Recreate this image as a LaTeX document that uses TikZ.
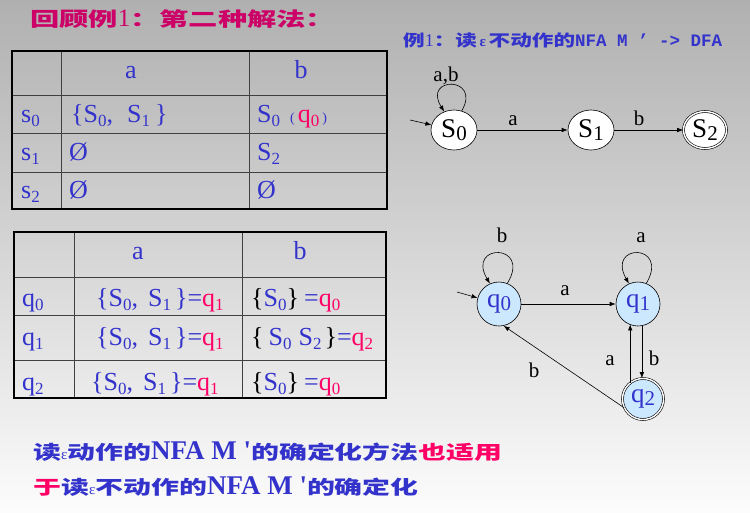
\documentclass[tikz,border=0pt]{standalone}
\usepackage{fontspec}
\setmainfont{Liberation Serif}
\newfontfamily\cjkT[FakeStretch=1.47]{Noto Sans CJK SC}
\newfontfamily\cjkTT[FakeStretch=1.5]{Noto Sans CJK SC}
\newfontfamily\cjkS[FakeStretch=1.35]{Noto Sans CJK SC}
\newfontfamily\monoB{Liberation Mono}
\usetikzlibrary{arrows.meta,shapes.geometric}
\definecolor{tblue}{RGB}{51,51,204}
\definecolor{tred}{RGB}{255,0,102}
\definecolor{tmag}{RGB}{204,0,102}
\definecolor{qfill}{RGB}{204,232,255}
\definecolor{bgtop}{RGB}{176,176,176}
\definecolor{bgmid}{RGB}{228,228,228}
\definecolor{bgbot}{RGB}{252,252,252}
\newcommand\sbs[2][17]{\raisebox{-4pt}{\fontsize{#1}{#1}\selectfont #2}}
\newcommand\sbq[1]{\raisebox{-3pt}{\fontsize{21}{21}\selectfont #1}}
\begin{document}
\begin{tikzpicture}[x=1pt,y=-1pt,
  tline/.style={draw=black!75, line width=0.8pt},
  tborder/.style={draw=black, line width=1.8pt},
  cell/.style={anchor=base west, inner sep=0pt, text=tblue, font=\fontsize{26}{26}\selectfont},
  hdr/.style={anchor=base, inner sep=0pt, text=tblue, font=\fontsize{26}{26}\selectfont},
  st/.style={ellipse, draw, fill=white, line width=0.6pt, minimum width=46pt, minimum height=40pt, inner sep=0pt, font=\fontsize{27}{27}\selectfont},
  qs/.style={circle, draw, fill=qfill, line width=0.6pt, minimum size=44pt, inner sep=0pt, text=tblue, font=\fontsize{27}{27}\selectfont},
  acc/.style={double, double distance=1.4pt},
  edge/.style={-{Latex[length=6pt,width=4.5pt]}, line width=0.6pt},
  lbl/.style={anchor=base, inner sep=0pt, font=\fontsize{21}{21}\selectfont},
  cjkline/.style={anchor=base west, inner sep=0pt, text=tblue, font=\cjkT\bfseries\fontsize{19}{19}\selectfont},
]
\useasboundingbox (0,0) rectangle (750,512);
\shade[top color=bgtop, middle color=bgmid, bottom color=bgbot] (0,0) rectangle (750,512);

% Title
\node[anchor=base west, inner sep=0pt, text=tmag, font=\cjkTT\bfseries\fontsize{19.5}{19.5}\selectfont] (title) at (30,26)
  {回顾例{\rmfamily\mdseries\fontsize{25}{25}\selectfont 1}：第二种解法：};

% Subtitle
\node[anchor=base west, inner sep=0pt, text=tblue, font=\cjkS\bfseries\fontsize{16}{16}\selectfont] (sub) at (403,46)
  {例{\rmfamily\mdseries\fontsize{18}{18}\selectfont 1}：读\,{\rmfamily\fontsize{15}{15}\selectfont ε}\,不动作的{\monoB\bfseries\fontsize{17.5}{17.5}\selectfont NFA M ’ -> DFA}};

% Table 1
\draw[tline] (61,51) -- (61,209) (249,51) -- (249,209)
  (12,95) -- (387,95) (12,133) -- (387,133) (12,172) -- (387,172);
\draw[tborder] (12,51) rectangle (387,209);
\node[hdr] (t1a) at (131,78) {a};
\node[hdr] (t1b) at (301,78) {b};
\node[cell] (t1r1) at (21,122) {s\sbs{0}};
\node[cell] (t1r2) at (21,160) {s\sbs{1}};
\node[cell] (t1r3) at (21,198) {s\sbs{2}};
\node[cell] (t1c11) at (71,122) {\{S\sbs{0},\hspace{14pt}S\sbs{1}\hspace{5pt}\}};
\node[cell] (t1c12) at (257,122) {S\sbs{0}\hspace{10pt}{\fontsize{14}{14}\selectfont (}\hspace{3pt}\textcolor{tred}{q\sbs{0}}\hspace{3pt}{\fontsize{14}{14}\selectfont )}};
\node[cell] (t1c21) at (69,160) {Ø};
\node[cell] (t1c22) at (257,160) {S\sbs{2}};
\node[cell] (t1c31) at (69,198) {Ø};
\node[cell] (t1c32) at (257,198) {Ø};

% Table 2
\draw[tline] (74,232) -- (74,398) (242,232) -- (242,398)
  (14,277) -- (386,277) (14,315) -- (386,315) (14,360) -- (386,360);
\draw[tborder] (14,232) rectangle (386,398);
\node[hdr] (t2a) at (138,259) {a};
\node[hdr] (t2b) at (300,259) {b};
\node[cell] (t2r1) at (22,306) {q\sbs{0}};
\node[cell] (t2r2) at (22,345) {q\sbs{1}};
\node[cell] (t2r3) at (22,390) {q\sbs{2}};
\node[cell] (t2c11) at (96,306) {\{S\sbs{0},\hspace{10pt}S\sbs{1}\hspace{4pt}\}=\textcolor{tred}{q\sbs{1}}};
\node[cell] (t2c21) at (96,345) {\{S\sbs{0},\hspace{10pt}S\sbs{1}\hspace{4pt}\}=\textcolor{tred}{q\sbs{1}}};
\node[cell] (t2c31) at (91,390) {\{S\sbs{0},\hspace{10pt}S\sbs{1}\hspace{4pt}\}=\textcolor{tred}{q\sbs{1}}};
\node[cell] (t2c12) at (251,306) {\textcolor{black}{\{}S\sbs{0}\textcolor{black}{\}}\hspace{5pt}=\textcolor{tred}{q\sbs{0}}};
\node[cell] (t2c22) at (251,345) {\textcolor{black}{\{}\hspace{5pt}S\sbs{0}\hspace{7pt}S\sbs{2}\hspace{3pt}\textcolor{black}{\}}=\textcolor{tred}{q\sbs{2}}};
\node[cell] (t2c32) at (251,390) {\textcolor{black}{\{}S\sbs{0}\textcolor{black}{\}}\hspace{5pt}=\textcolor{tred}{q\sbs{0}}};

% Automaton 1
\node[st] (S0) at (454,130) {S\sbq{0}};
\node[st] (S1) at (591,130) {S\sbq{1}};
\node[st, acc, minimum width=43pt, minimum height=37pt] (S2) at (705,130) {S\sbq{2}};
\coordinate (s0in) at (410,120);
\draw[edge] (s0in) -- (S0);
\draw[edge] (S0.68) .. controls (482,76) and (422,76) .. (S0.118);
\draw[edge] (S0) -- (S1);
\draw[edge] (S1) -- (S2);
\node[lbl] (lab) at (446,81) {a,b};
\node[lbl] (la1) at (513,125) {a};
\node[lbl] (lb1) at (639,125) {b};

% Automaton 2
\node[qs] (q0) at (499,304) {q\sbq{0}};
\node[qs] (q1) at (638,304) {q\sbq{1}};
\node[qs, acc, minimum size=41pt] (q2) at (643,399) {q\sbq{2}};
\coordinate (q0in) at (457,292);
\draw[edge] (q0in) -- (q0);
\draw[edge] (q0.68) .. controls (532,243) and (466,243) .. (q0.114);
\draw[edge] (q1.68) .. controls (670,243) and (606,243) .. (q1.114);
\draw[edge] (q0) -- (q1);
\draw[edge] (q1.-80) -- (q1.-80 |- q2.north);
\draw[edge] (q2.128) -- (q2.128 |- q1.-114);
\draw[edge] (q2.205) -- (q0.-78);
\node[lbl] (lq0) at (502,242) {b};
\node[lbl] (lq1) at (641,242) {a};
\node[lbl] (lq01) at (565,295) {a};
\node[lbl] (lq12) at (654,365) {b};
\node[lbl] (lq21) at (610,365) {a};
\node[lbl] (lq20) at (534,377) {b};

% Bottom text
\node[cjkline] (line1) at (33,459)
  {读{\rmfamily\mdseries\fontsize{15}{15}\selectfont ε}动作的{\rmfamily\bfseries\fontsize{27}{27}\selectfont NFA M \textquotesingle}的确定化方法\textcolor{tred}{也适用}};
\node[cjkline] (line2) at (33,494)
  {\textcolor{tred}{于}读{\rmfamily\mdseries\fontsize{15}{15}\selectfont ε}不动作的{\rmfamily\bfseries\fontsize{27}{27}\selectfont NFA M \textquotesingle}的确定化};
\end{tikzpicture}
\end{document}
